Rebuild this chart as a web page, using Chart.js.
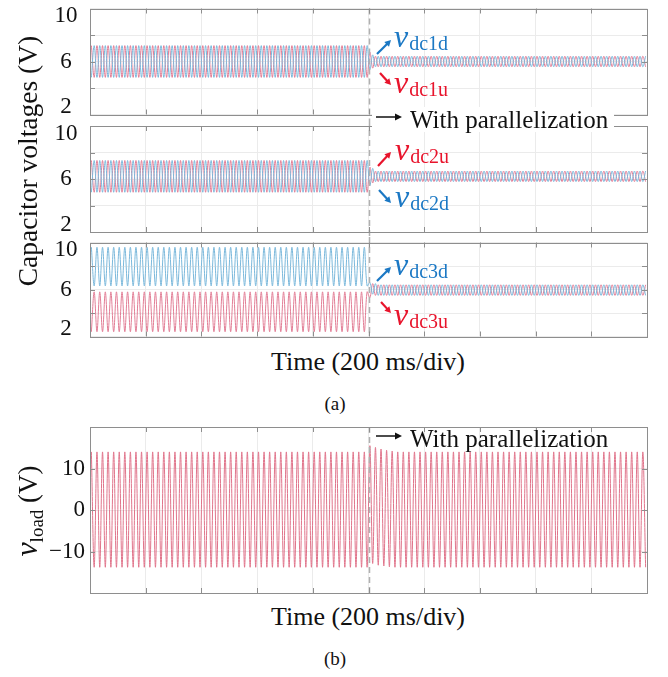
<!DOCTYPE html>
<html>
<head>
<meta charset="utf-8">
<title>Capacitor voltages and load voltage</title>
<script src="https://cdn.jsdelivr.net/npm/chart.js@4.4.1/dist/chart.umd.min.js"></script>
<style>
  html, body { margin: 0; padding: 0; background: #fff; }
  #page { position: relative; width: 668px; height: 677px; overflow: hidden;
          font-family: "Liberation Serif", "Times New Roman", serif; color: #111; }
  #page canvas { position: absolute; left: 0; }
  .txt { position: absolute; white-space: nowrap; }
  .txt svg { vertical-align: 5px; margin-right: 8px; }
  .ctr { position: absolute; width: 400px; text-align: center; white-space: nowrap; }
  .rot { position: absolute; width: 0; height: 0; }
  .rot span { position: absolute; left: 0; top: 0; white-space: nowrap;
              transform: translate(-50%, -50%) rotate(-90deg); }
  .rot i { font-size: 32px; }
  .rot sub { font-size: 19px; vertical-align: -0.3em; }
</style>
</head>
<body>
<div id="page">
  <canvas id="cap1" width="668" height="120" style="top:0px"></canvas>
  <canvas id="cap2" width="668" height="117" style="top:120px"></canvas>
  <canvas id="cap3" width="668" height="108" style="top:237px"></canvas>
  <canvas id="load" width="668" height="180" style="top:420px"></canvas>

  <div class="rot" style="left:28px;top:161px"><span style="font-size:27.5px">Capacitor voltages (V)</span></div>
  <div class="txt" style="left:372px;top:107px;font-size:25px;line-height:25px;background:#fff;padding:0 6px 0 4px"><svg width="26" height="12" viewBox="0 0 26 12"><line x1="0" y1="6" x2="21" y2="6" stroke="#111" stroke-width="1.5"/><polygon points="19,2.5 26,6 19,9.5" fill="#111"/></svg>With parallelization</div>
  <div class="ctr" style="left:168px;top:349px;font-size:26px;line-height:26px">Time (200 ms/div)</div>
  <div class="ctr" style="left:135px;top:394px;font-size:19px;line-height:19px">(a)</div>

  <div class="rot" style="left:28px;top:511px"><span style="font-size:27px"><i>v</i><sub>load</sub> (V)</span></div>
  <div class="txt" style="left:376px;top:426px;font-size:25px;line-height:25px"><svg width="26" height="12" viewBox="0 0 26 12"><line x1="0" y1="6" x2="21" y2="6" stroke="#111" stroke-width="1.5"/><polygon points="19,2.5 26,6 19,9.5" fill="#111"/></svg>With parallelization</div>
  <div class="ctr" style="left:168px;top:604px;font-size:26px;line-height:26px">Time (200 ms/div)</div>
  <div class="ctr" style="left:135px;top:649px;font-size:19px;line-height:19px">(b)</div>
</div>

<script>
// one value per half cycle of the 50 Hz ripple (peaks and valleys)
const HALF_CYCLE_MS = 10;
const SWITCH_MS = 1000;
const TIME_MIN_MS = 0;
const TIME_MAX_MS = 2000;
const TIME_DIV_MS = 200;

const capTickValues = [10, 6, 2];
const capTickLabels = ['10', '6', '2'];
const loadTickValues = [10, 0, -10];
const loadTickLabels = ['10', '0', '\u221210'];

// module 1 (V)
const dc1u = [
  7.2, 4.8, 7.2, 4.8, 7.2, 4.8, 7.2, 4.8, 7.2, 4.8, 7.2, 4.8, 7.2, 4.8, 7.2, 4.8, 7.2, 4.8, 7.2, 4.8,
  7.2, 4.8, 7.2, 4.8, 7.2, 4.8, 7.2, 4.8, 7.2, 4.8, 7.2, 4.8, 7.2, 4.8, 7.2, 4.8, 7.2, 4.8, 7.2, 4.8,
  7.2, 4.8, 7.2, 4.8, 7.2, 4.8, 7.2, 4.8, 7.2, 4.8, 7.2, 4.8, 7.2, 4.8, 7.2, 4.8, 7.2, 4.8, 7.2, 4.8,
  7.2, 4.8, 7.2, 4.8, 7.2, 4.8, 7.2, 4.8, 7.2, 4.8, 7.2, 4.8, 7.2, 4.8, 7.2, 4.8, 7.2, 4.8, 7.2, 4.8,
  7.2, 4.8, 7.2, 4.8, 7.2, 4.8, 7.2, 4.8, 7.2, 4.8, 7.2, 4.8, 7.2, 4.8, 7.2, 4.8, 7.2, 4.8, 7.2, 4.8,
  6.7, 5.5, 6.4, 5.6, 6.4, 5.6, 6.4, 5.6, 6.4, 5.6, 6.4, 5.6, 6.4, 5.6, 6.4, 5.6, 6.4, 5.6, 6.4, 5.6,
  6.4, 5.6, 6.4, 5.6, 6.4, 5.6, 6.4, 5.6, 6.4, 5.6, 6.4, 5.6, 6.4, 5.6, 6.4, 5.6, 6.4, 5.6, 6.4, 5.6,
  6.4, 5.6, 6.4, 5.6, 6.4, 5.6, 6.4, 5.6, 6.4, 5.6, 6.4, 5.6, 6.4, 5.6, 6.4, 5.6, 6.4, 5.6, 6.4, 5.6,
  6.4, 5.6, 6.4, 5.6, 6.4, 5.6, 6.4, 5.6, 6.4, 5.6, 6.4, 5.6, 6.4, 5.6, 6.4, 5.6, 6.4, 5.6, 6.4, 5.6,
  6.4, 5.6, 6.4, 5.6, 6.4, 5.6, 6.4, 5.6, 6.4, 5.6, 6.4, 5.6, 6.4, 5.6, 6.4, 5.6, 6.4, 5.6, 6.4, 5.6,
];
const dc1d = [
  4.8, 7.2, 4.8, 7.2, 4.8, 7.2, 4.8, 7.2, 4.8, 7.2, 4.8, 7.2, 4.8, 7.2, 4.8, 7.2, 4.8, 7.2, 4.8, 7.2,
  4.8, 7.2, 4.8, 7.2, 4.8, 7.2, 4.8, 7.2, 4.8, 7.2, 4.8, 7.2, 4.8, 7.2, 4.8, 7.2, 4.8, 7.2, 4.8, 7.2,
  4.8, 7.2, 4.8, 7.2, 4.8, 7.2, 4.8, 7.2, 4.8, 7.2, 4.8, 7.2, 4.8, 7.2, 4.8, 7.2, 4.8, 7.2, 4.8, 7.2,
  4.8, 7.2, 4.8, 7.2, 4.8, 7.2, 4.8, 7.2, 4.8, 7.2, 4.8, 7.2, 4.8, 7.2, 4.8, 7.2, 4.8, 7.2, 4.8, 7.2,
  4.8, 7.2, 4.8, 7.2, 4.8, 7.2, 4.8, 7.2, 4.8, 7.2, 4.8, 7.2, 4.8, 7.2, 4.8, 7.2, 4.8, 7.2, 4.8, 7.2,
  5.4, 6.5, 5.6, 6.4, 5.6, 6.4, 5.6, 6.4, 5.6, 6.4, 5.6, 6.4, 5.6, 6.4, 5.6, 6.4, 5.6, 6.4, 5.6, 6.4,
  5.6, 6.4, 5.6, 6.4, 5.6, 6.4, 5.6, 6.4, 5.6, 6.4, 5.6, 6.4, 5.6, 6.4, 5.6, 6.4, 5.6, 6.4, 5.6, 6.4,
  5.6, 6.4, 5.6, 6.4, 5.6, 6.4, 5.6, 6.4, 5.6, 6.4, 5.6, 6.4, 5.6, 6.4, 5.6, 6.4, 5.6, 6.4, 5.6, 6.4,
  5.6, 6.4, 5.6, 6.4, 5.6, 6.4, 5.6, 6.4, 5.6, 6.4, 5.6, 6.4, 5.6, 6.4, 5.6, 6.4, 5.6, 6.4, 5.6, 6.4,
  5.6, 6.4, 5.6, 6.4, 5.6, 6.4, 5.6, 6.4, 5.6, 6.4, 5.6, 6.4, 5.6, 6.4, 5.6, 6.4, 5.6, 6.4, 5.6, 6.4,
];

// module 2 (V)
const dc2u = [
  7.4, 5.0, 7.4, 5.0, 7.4, 5.0, 7.4, 5.0, 7.4, 5.0, 7.4, 5.0, 7.4, 5.0, 7.4, 5.0, 7.4, 5.0, 7.4, 5.0,
  7.4, 5.0, 7.4, 5.0, 7.4, 5.0, 7.4, 5.0, 7.4, 5.0, 7.4, 5.0, 7.4, 5.0, 7.4, 5.0, 7.4, 5.0, 7.4, 5.0,
  7.4, 5.0, 7.4, 5.0, 7.4, 5.0, 7.4, 5.0, 7.4, 5.0, 7.4, 5.0, 7.4, 5.0, 7.4, 5.0, 7.4, 5.0, 7.4, 5.0,
  7.4, 5.0, 7.4, 5.0, 7.4, 5.0, 7.4, 5.0, 7.4, 5.0, 7.4, 5.0, 7.4, 5.0, 7.4, 5.0, 7.4, 5.0, 7.4, 5.0,
  7.4, 5.0, 7.4, 5.0, 7.4, 5.0, 7.4, 5.0, 7.4, 5.0, 7.4, 5.0, 7.4, 5.0, 7.4, 5.0, 7.4, 5.0, 7.4, 5.0,
  6.9, 5.7, 6.6, 5.8, 6.6, 5.8, 6.6, 5.8, 6.6, 5.8, 6.6, 5.8, 6.6, 5.8, 6.6, 5.8, 6.6, 5.8, 6.6, 5.8,
  6.6, 5.8, 6.6, 5.8, 6.6, 5.8, 6.6, 5.8, 6.6, 5.8, 6.6, 5.8, 6.6, 5.8, 6.6, 5.8, 6.6, 5.8, 6.6, 5.8,
  6.6, 5.8, 6.6, 5.8, 6.6, 5.8, 6.6, 5.8, 6.6, 5.8, 6.6, 5.8, 6.6, 5.8, 6.6, 5.8, 6.6, 5.8, 6.6, 5.8,
  6.6, 5.8, 6.6, 5.8, 6.6, 5.8, 6.6, 5.8, 6.6, 5.8, 6.6, 5.8, 6.6, 5.8, 6.6, 5.8, 6.6, 5.8, 6.6, 5.8,
  6.6, 5.8, 6.6, 5.8, 6.6, 5.8, 6.6, 5.8, 6.6, 5.8, 6.6, 5.8, 6.6, 5.8, 6.6, 5.8, 6.6, 5.8, 6.6, 5.8,
];
const dc2d = [
  5.0, 7.4, 5.0, 7.4, 5.0, 7.4, 5.0, 7.4, 5.0, 7.4, 5.0, 7.4, 5.0, 7.4, 5.0, 7.4, 5.0, 7.4, 5.0, 7.4,
  5.0, 7.4, 5.0, 7.4, 5.0, 7.4, 5.0, 7.4, 5.0, 7.4, 5.0, 7.4, 5.0, 7.4, 5.0, 7.4, 5.0, 7.4, 5.0, 7.4,
  5.0, 7.4, 5.0, 7.4, 5.0, 7.4, 5.0, 7.4, 5.0, 7.4, 5.0, 7.4, 5.0, 7.4, 5.0, 7.4, 5.0, 7.4, 5.0, 7.4,
  5.0, 7.4, 5.0, 7.4, 5.0, 7.4, 5.0, 7.4, 5.0, 7.4, 5.0, 7.4, 5.0, 7.4, 5.0, 7.4, 5.0, 7.4, 5.0, 7.4,
  5.0, 7.4, 5.0, 7.4, 5.0, 7.4, 5.0, 7.4, 5.0, 7.4, 5.0, 7.4, 5.0, 7.4, 5.0, 7.4, 5.0, 7.4, 5.0, 7.4,
  5.5, 6.8, 5.8, 6.6, 5.8, 6.6, 5.8, 6.6, 5.8, 6.6, 5.8, 6.6, 5.8, 6.6, 5.8, 6.6, 5.8, 6.6, 5.8, 6.6,
  5.8, 6.6, 5.8, 6.6, 5.8, 6.6, 5.8, 6.6, 5.8, 6.6, 5.8, 6.6, 5.8, 6.6, 5.8, 6.6, 5.8, 6.6, 5.8, 6.6,
  5.8, 6.6, 5.8, 6.6, 5.8, 6.6, 5.8, 6.6, 5.8, 6.6, 5.8, 6.6, 5.8, 6.6, 5.8, 6.6, 5.8, 6.6, 5.8, 6.6,
  5.8, 6.6, 5.8, 6.6, 5.8, 6.6, 5.8, 6.6, 5.8, 6.6, 5.8, 6.6, 5.8, 6.6, 5.8, 6.6, 5.8, 6.6, 5.8, 6.6,
  5.8, 6.6, 5.8, 6.6, 5.8, 6.6, 5.8, 6.6, 5.8, 6.6, 5.8, 6.6, 5.8, 6.6, 5.8, 6.6, 5.8, 6.6, 5.8, 6.6,
];

// module 3 (V)
const dc3d = [
  9.6, 6.3, 9.6, 6.3, 9.6, 6.3, 9.6, 6.3, 9.6, 6.3, 9.6, 6.3, 9.6, 6.3, 9.6, 6.3, 9.6, 6.3, 9.6, 6.3,
  9.6, 6.3, 9.6, 6.3, 9.6, 6.3, 9.6, 6.3, 9.6, 6.3, 9.6, 6.3, 9.6, 6.3, 9.6, 6.3, 9.6, 6.3, 9.6, 6.3,
  9.6, 6.3, 9.6, 6.3, 9.6, 6.3, 9.6, 6.3, 9.6, 6.3, 9.6, 6.3, 9.6, 6.3, 9.6, 6.3, 9.6, 6.3, 9.6, 6.3,
  9.6, 6.3, 9.6, 6.3, 9.6, 6.3, 9.6, 6.3, 9.6, 6.3, 9.6, 6.3, 9.6, 6.3, 9.6, 6.3, 9.6, 6.3, 9.6, 6.3,
  9.6, 6.3, 9.6, 6.3, 9.6, 6.3, 9.6, 6.3, 9.6, 6.3, 9.6, 6.3, 9.6, 6.3, 9.6, 6.3, 9.6, 6.3, 9.6, 6.3,
  6.6, 5.6, 6.5, 5.5, 6.4, 5.5, 6.4, 5.5, 6.4, 5.5, 6.4, 5.5, 6.4, 5.5, 6.4, 5.5, 6.4, 5.5, 6.4, 5.5,
  6.4, 5.5, 6.4, 5.5, 6.4, 5.5, 6.4, 5.5, 6.4, 5.5, 6.4, 5.5, 6.4, 5.5, 6.4, 5.5, 6.4, 5.5, 6.4, 5.5,
  6.4, 5.5, 6.4, 5.5, 6.4, 5.5, 6.4, 5.5, 6.4, 5.5, 6.4, 5.5, 6.4, 5.5, 6.4, 5.5, 6.4, 5.5, 6.4, 5.5,
  6.4, 5.5, 6.4, 5.5, 6.4, 5.5, 6.4, 5.5, 6.4, 5.5, 6.4, 5.5, 6.4, 5.5, 6.4, 5.5, 6.4, 5.5, 6.4, 5.5,
  6.4, 5.5, 6.4, 5.5, 6.4, 5.5, 6.4, 5.5, 6.4, 5.5, 6.4, 5.5, 6.4, 5.5, 6.4, 5.5, 6.4, 5.5, 6.4, 5.5,
];
const dc3u = [
  2.4, 5.8, 2.4, 5.8, 2.4, 5.8, 2.4, 5.8, 2.4, 5.8, 2.4, 5.8, 2.4, 5.8, 2.4, 5.8, 2.4, 5.8, 2.4, 5.8,
  2.4, 5.8, 2.4, 5.8, 2.4, 5.8, 2.4, 5.8, 2.4, 5.8, 2.4, 5.8, 2.4, 5.8, 2.4, 5.8, 2.4, 5.8, 2.4, 5.8,
  2.4, 5.8, 2.4, 5.8, 2.4, 5.8, 2.4, 5.8, 2.4, 5.8, 2.4, 5.8, 2.4, 5.8, 2.4, 5.8, 2.4, 5.8, 2.4, 5.8,
  2.4, 5.8, 2.4, 5.8, 2.4, 5.8, 2.4, 5.8, 2.4, 5.8, 2.4, 5.8, 2.4, 5.8, 2.4, 5.8, 2.4, 5.8, 2.4, 5.8,
  2.4, 5.8, 2.4, 5.8, 2.4, 5.8, 2.4, 5.8, 2.4, 5.8, 2.4, 5.8, 2.4, 5.8, 2.4, 5.8, 2.4, 5.8, 2.4, 5.8,
  5.3, 6.5, 5.5, 6.4, 5.5, 6.4, 5.5, 6.4, 5.5, 6.4, 5.5, 6.4, 5.5, 6.4, 5.5, 6.4, 5.5, 6.4, 5.5, 6.4,
  5.5, 6.4, 5.5, 6.4, 5.5, 6.4, 5.5, 6.4, 5.5, 6.4, 5.5, 6.4, 5.5, 6.4, 5.5, 6.4, 5.5, 6.4, 5.5, 6.4,
  5.5, 6.4, 5.5, 6.4, 5.5, 6.4, 5.5, 6.4, 5.5, 6.4, 5.5, 6.4, 5.5, 6.4, 5.5, 6.4, 5.5, 6.4, 5.5, 6.4,
  5.5, 6.4, 5.5, 6.4, 5.5, 6.4, 5.5, 6.4, 5.5, 6.4, 5.5, 6.4, 5.5, 6.4, 5.5, 6.4, 5.5, 6.4, 5.5, 6.4,
  5.5, 6.4, 5.5, 6.4, 5.5, 6.4, 5.5, 6.4, 5.5, 6.4, 5.5, 6.4, 5.5, 6.4, 5.5, 6.4, 5.5, 6.4, 5.5, 6.4,
];

// load voltage (V)
const vload = [
  14, -13.8, 14, -13.8, 14, -13.8, 14, -13.8, 14, -13.8, 14, -13.8, 14, -13.8, 14, -13.8, 14, -13.8, 14, -13.8,
  14, -13.8, 14, -13.8, 14, -13.8, 14, -13.8, 14, -13.8, 14, -13.8, 14, -13.8, 14, -13.8, 14, -13.8, 14, -13.8,
  14, -13.8, 14, -13.8, 14, -13.8, 14, -13.8, 14, -13.8, 14, -13.8, 14, -13.8, 14, -13.8, 14, -13.8, 14, -13.8,
  14, -13.8, 14, -13.8, 14, -13.8, 14, -13.8, 14, -13.8, 14, -13.8, 14, -13.8, 14, -13.8, 14, -13.8, 14, -13.8,
  14, -13.8, 14, -13.8, 14, -13.8, 14, -13.8, 14, -13.8, 14, -13.8, 14, -13.8, 14, -13.8, 14, -13.8, 14, -13.8,
  15.5, -12.9, 15.1, -13.3, 14.7, -13.5, 14.4, -13.7, 14.2, -13.8, 14, -13.8, 14, -13.8, 14, -13.8, 14, -13.8, 14, -13.8,
  14, -13.8, 14, -13.8, 14, -13.8, 14, -13.8, 14, -13.8, 14, -13.8, 14, -13.8, 14, -13.8, 14, -13.8, 14, -13.8,
  14, -13.8, 14, -13.8, 14, -13.8, 14, -13.8, 14, -13.8, 14, -13.8, 14, -13.8, 14, -13.8, 14, -13.8, 14, -13.8,
  14, -13.8, 14, -13.8, 14, -13.8, 14, -13.8, 14, -13.8, 14, -13.8, 14, -13.8, 14, -13.8, 14, -13.8, 14, -13.8,
  14, -13.8, 14, -13.8, 14, -13.8, 14, -13.8, 14, -13.8, 14, -13.8, 14, -13.8, 14, -13.8, 14, -13.8, 14, -13.8,
];

const RED = '#e27d95';
const BLUE = '#7ab8db';
const LOAD_RED = '#e0738a';
const LABEL_RED = '#e8142c';
const LABEL_BLUE = '#1b78c4';
const SERIF = '"Liberation Serif", "Times New Roman", serif';

function drawArrow(ctx, x0, y0, x1, y1, color) {
  const ang = Math.atan2(y1 - y0, x1 - x0);
  const head = 7;
  ctx.strokeStyle = color;
  ctx.fillStyle = color;
  ctx.lineWidth = 2.2;
  ctx.setLineDash([]);
  ctx.beginPath();
  ctx.moveTo(x0, y0);
  ctx.lineTo(x1 - Math.cos(ang) * head * 0.7, y1 - Math.sin(ang) * head * 0.7);
  ctx.stroke();
  ctx.beginPath();
  ctx.moveTo(x1, y1);
  ctx.lineTo(x1 - head * Math.cos(ang - 0.5), y1 - head * Math.sin(ang - 0.5));
  ctx.lineTo(x1 - head * Math.cos(ang + 0.5), y1 - head * Math.sin(ang + 0.5));
  ctx.closePath();
  ctx.fill();
}

function drawSignalName(ctx, x, y, sub, color) {
  ctx.fillStyle = color;
  ctx.textAlign = 'left';
  ctx.textBaseline = 'alphabetic';
  ctx.font = 'italic 32px ' + SERIF;
  ctx.fillText('v', x, y);
  const w = ctx.measureText('v').width;
  ctx.font = '20px ' + SERIF;
  ctx.fillText(sub, x + w + 1, y + 3);
}

// frame, inner tick marks, tick labels, switching instant and trace names
const scopeFrame = {
  id: 'scopeFrame',
  afterDatasetsDraw(chart, args, opts) {
    const { ctx, chartArea: a, scales: { x } } = chart;
    const xs = Math.round(x.getPixelForValue(SWITCH_MS)) + 0.5;
    ctx.save();
    ctx.strokeStyle = '#b0b0b0';
    ctx.lineWidth = 1.5;
    ctx.setLineDash([6, 4]);
    ctx.beginPath();
    ctx.moveTo(xs, opts.dashToEdgeTop ? 0 : a.top);
    ctx.lineTo(xs, opts.dashToEdgeBottom ? chart.height : a.bottom);
    ctx.stroke();
    ctx.restore();
  },
  afterDraw(chart, args, opts) {
    const { ctx, chartArea: a, scales: { x, y } } = chart;
    ctx.save();
    ctx.strokeStyle = '#8e8e8e';
    ctx.lineWidth = 1;
    ctx.setLineDash([]);
    ctx.strokeRect(Math.round(a.left) + 0.5, Math.round(a.top) + 0.5,
      Math.round(a.right - a.left), Math.round(a.bottom - a.top));

    ctx.beginPath();
    x.ticks.forEach(t => {
      if (t.value <= TIME_MIN_MS || t.value >= TIME_MAX_MS) return;
      const px = Math.round(x.getPixelForValue(t.value)) + 0.5;
      ctx.moveTo(px, a.top); ctx.lineTo(px, a.top + 5);
      ctx.moveTo(px, a.bottom); ctx.lineTo(px, a.bottom - 5);
    });
    y.ticks.forEach(t => {
      if (t.value <= y.min || t.value >= y.max) return;
      const py = Math.round(y.getPixelForValue(t.value)) + 0.5;
      ctx.moveTo(a.left, py); ctx.lineTo(a.left + 5, py);
      ctx.moveTo(a.right, py); ctx.lineTo(a.right - 5, py);
    });
    ctx.stroke();

    ctx.fillStyle = '#111';
    ctx.font = '23px ' + SERIF;
    ctx.textBaseline = 'middle';
    ctx.textAlign = opts.labelAlign;
    opts.tickValues.forEach((v, i) => {
      const py = Math.min(Math.max(y.getPixelForValue(v), a.top + 7.5), a.bottom - 7.5);
      ctx.fillText(opts.tickLabels[i], opts.labelX, py);
    });

    (opts.marks || []).forEach(m => {
      if (m.arrow) drawArrow(ctx, m.arrow[0], m.arrow[1] - opts.top, m.arrow[2], m.arrow[3] - opts.top, m.color);
      else drawSignalName(ctx, m.at[0], m.at[1] - opts.top, m.sub, m.color);
    });
    ctx.restore();
  },
};

function scopeChart(id, opts) {
  return new Chart(document.getElementById(id), {
    type: 'line',
    data: {
      datasets: opts.series.map(s => ({
        data: s.values.map((v, i) => ({ x: HALF_CYCLE_MS / 2 + i * HALF_CYCLE_MS, y: v })),
        borderColor: s.color,
        borderWidth: 1,
        pointRadius: 0,
        tension: 0.35,
        fill: false,
      })),
    },
    options: {
      responsive: false,
      animation: false,
      events: [],
      layout: { padding: opts.padding },
      plugins: {
        legend: { display: false },
        tooltip: { enabled: false },
        scopeFrame: opts.frame,
      },
      scales: {
        x: {
          type: 'linear', min: TIME_MIN_MS, max: TIME_MAX_MS,
          ticks: { stepSize: TIME_DIV_MS, display: false },
          grid: { color: '#ebebeb', drawTicks: false },
          border: { display: false },
        },
        y: {
          min: opts.yMin, max: opts.yMax,
          ticks: { stepSize: opts.yStep, display: false },
          grid: { color: '#ebebeb', drawTicks: false },
          border: { display: false },
        },
      },
    },
    plugins: [scopeFrame],
  });
}

const capFrame = { tickValues: capTickValues, tickLabels: capTickLabels, labelAlign: 'center', labelX: 66 };

scopeChart('cap1', {
  padding: { left: 90, right: 21, top: 8.5, bottom: 5.5 },
  yMin: 2, yMax: 10, yStep: 2,
  series: [{ values: dc1d, color: BLUE }, { values: dc1u, color: RED }],
  frame: Object.assign({}, capFrame, {
    top: 0, dashToEdgeTop: false, dashToEdgeBottom: true,
    marks: [
      { arrow: [377, 54, 391, 40], color: LABEL_BLUE },
      { at: [394, 47], sub: 'dc1d', color: LABEL_BLUE },
      { arrow: [380, 73, 391, 85], color: LABEL_RED },
      { at: [394, 93], sub: 'dc1u', color: LABEL_RED },
    ],
  }),
});

scopeChart('cap2', {
  padding: { left: 90, right: 21, top: 6, bottom: 5 },
  yMin: 2, yMax: 10, yStep: 2,
  series: [{ values: dc2d, color: BLUE }, { values: dc2u, color: RED }],
  frame: Object.assign({}, capFrame, {
    top: 120, dashToEdgeTop: true, dashToEdgeBottom: true,
    marks: [
      { arrow: [378, 166, 391, 152], color: LABEL_RED },
      { at: [395, 160], sub: 'dc2u', color: LABEL_RED },
      { arrow: [379, 190, 391, 203], color: LABEL_BLUE },
      { at: [395, 207], sub: 'dc2d', color: LABEL_BLUE },
    ],
  }),
});

scopeChart('cap3', {
  padding: { left: 90, right: 21, top: 5.5, bottom: 8.5 },
  yMin: 2, yMax: 10, yStep: 2,
  series: [{ values: dc3d, color: BLUE }, { values: dc3u, color: RED }],
  frame: Object.assign({}, capFrame, {
    top: 237, dashToEdgeTop: true, dashToEdgeBottom: false,
    marks: [
      { arrow: [377, 281, 391, 267], color: LABEL_BLUE },
      { at: [394, 275], sub: 'dc3d', color: LABEL_BLUE },
      { arrow: [381, 302, 391, 313], color: LABEL_RED },
      { at: [394, 325], sub: 'dc3u', color: LABEL_RED },
    ],
  }),
});

scopeChart('load', {
  padding: { left: 90, right: 21, top: 7, bottom: 7 },
  yMin: -20, yMax: 20, yStep: 10,
  series: [{ values: vload, color: LOAD_RED }],
  frame: {
    tickValues: loadTickValues, tickLabels: loadTickLabels, labelAlign: 'right', labelX: 85,
    top: 420, dashToEdgeTop: false, dashToEdgeBottom: false, marks: [],
  },
});
</script>
</body>
</html>
